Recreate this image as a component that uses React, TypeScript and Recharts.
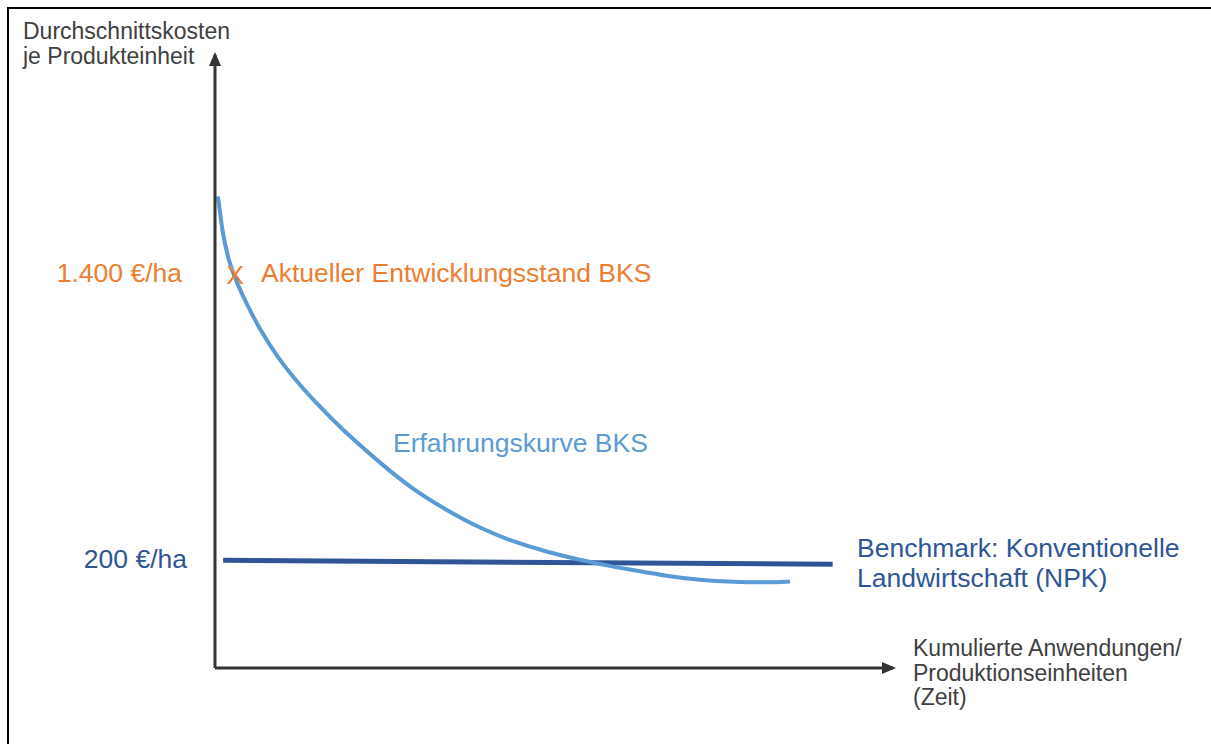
import React from 'react';
import { ComposedChart, Line, Scatter, XAxis, YAxis } from 'recharts';

// Erfahrungskurve BKS (x: kumulierte Anwendungen, y: €/ha)
const curveX = [0.4, 0.6, 1.0, 2.0, 3.2, 4.7, 6.6, 9.1, 12.0, 15.0, 18.4, 24.3, 29.2, 34.2, 39.1, 44.0, 48.9, 53.8, 58.7, 61.7, 66.6, 71.5, 76.4, 81.4, 84.8];
const curveY = [1720, 1690, 1585, 1448, 1360, 1268, 1165, 1052, 948, 855, 755, 607, 495, 408, 334, 277, 235, 201, 173, 159, 134, 117, 109, 107, 111];

// Benchmark: Konventionelle Landwirtschaft (NPK)
const benchX = [1.2, 91.1];
const benchY = [200, 183];

// Aktueller Entwicklungsstand BKS
const currentX = [2.95];
const currentY = [1392];

// y-axis tick labels
const yTicks = [200, 1400];
const yTickLabels = ['200 €/ha', '1.400 €/ha'];

const curveData = curveX.map((x, i) => ({ x, y: curveY[i] }));
const benchData = benchX.map((x, i) => ({ x, y: benchY[i] }));
const currentData = currentX.map((x, i) => ({ x, y: currentY[i] }));

const FONT = '"Liberation Sans", Arial, sans-serif';
const GRAY = '#404040';
const ORANGE = '#ED7D31';
const LIGHTBLUE = '#5B9BD5';
const DARKBLUE = '#2F5597';

const tickColor: Record<number, string> = { 200: DARKBLUE, 1400: ORANGE };
const tickDx: Record<number, number> = { 200: -28, 1400: -33 };
const tickDy: Record<number, number> = { 200: -2, 1400: 0 };

const YTick = (props: any) => {
  const { x, y, payload } = props;
  const v = payload.value as number;
  const idx = yTicks.indexOf(v);
  return (
    <text x={x + (tickDx[v] ?? -30)} y={y + (tickDy[v] ?? 0)} dy="0.36em" textAnchor="end" fill={tickColor[v]} fontSize={26.5} fontFamily={FONT}>
      {yTickLabels[idx]}
    </text>
  );
};

const XMark = (props: any) => (
  <text x={props.cx} y={props.cy} dy="0.36em" textAnchor="middle" fill={ORANGE} fontSize={26.5} fontFamily={FONT}>
    X
  </text>
);

export default function App() {
  return (
    <div style={{ position: 'absolute', left: 0, top: 0, width: 1211, height: 744, background: '#fff', overflow: 'hidden' }}>
      <svg width={0} height={0} style={{ position: 'absolute' }}>
        <defs>
          <marker id="arrowHead" markerUnits="userSpaceOnUse" markerWidth={14} markerHeight={12} viewBox="0 0 14 12" refX={11} refY={6} orient="auto-start-reverse">
            <path d="M0,0 L14,6 L0,12 z" fill="#333" />
          </marker>
        </defs>
      </svg>
      <div style={{ position: 'absolute', left: 7, top: 7, width: 1300, height: 800, borderLeft: '2px solid #000', borderTop: '2px solid #000' }} />
      <div style={{ position: 'absolute', left: 0, top: 0 }}>
        <ComposedChart width={1211} height={744} margin={{ top: 55, right: 318, bottom: 75, left: 0 }}>
          <XAxis
            type="number"
            dataKey="x"
            domain={[0, 100]}
            height={1}
            tick={false}
            tickLine={false}
            axisLine={{ stroke: '#333', strokeWidth: 3, markerEnd: 'url(#arrowHead)' }}
          />
          <YAxis
            type="number"
            dataKey="y"
            domain={[-250, 2310]}
            width={215}
            ticks={yTicks}
            tickLine={false}
            tickSize={0}
            tickMargin={0}
            tick={<YTick />}
            interval={0}
            axisLine={{ stroke: '#333', strokeWidth: 3, markerStart: 'url(#arrowHead)' }}
          />
          <Line data={benchData} dataKey="y" type="linear" stroke={DARKBLUE} strokeWidth={5} dot={false} isAnimationActive={false} />
          <Line data={curveData} dataKey="y" type="basis" stroke={LIGHTBLUE} strokeWidth={4} dot={false} isAnimationActive={false} />
          <Scatter data={currentData} dataKey="y" shape={<XMark />} isAnimationActive={false} />
        </ComposedChart>
      </div>
      <svg width={1211} height={744} style={{ position: 'absolute', left: 0, top: 0, pointerEvents: 'none' }} fontFamily={FONT}>
        <text x={23} y={39} fontSize={23} fill={GRAY}>Durchschnittskosten</text>
        <text x={23} y={64} fontSize={23} fill={GRAY}>je Produkteinheit</text>
        <text x={261} y={282} fontSize={26.5} fill={ORANGE}>Aktueller Entwicklungsstand BKS</text>
        <text x={393} y={452} fontSize={26.5} fill={LIGHTBLUE}>Erfahrungskurve BKS</text>
        <text x={857} y={557} fontSize={26.5} fill={DARKBLUE}>Benchmark: Konventionelle</text>
        <text x={857} y={587} fontSize={26.5} fill={DARKBLUE}>Landwirtschaft (NPK)</text>
        <text x={913} y={656} fontSize={23} fill={GRAY}>Kumulierte Anwendungen/</text>
        <text x={913} y={681} fontSize={23} fill={GRAY}>Produktionseinheiten</text>
        <text x={913} y={705} fontSize={23} fill={GRAY}>(Zeit)</text>
      </svg>
    </div>
  );
}
